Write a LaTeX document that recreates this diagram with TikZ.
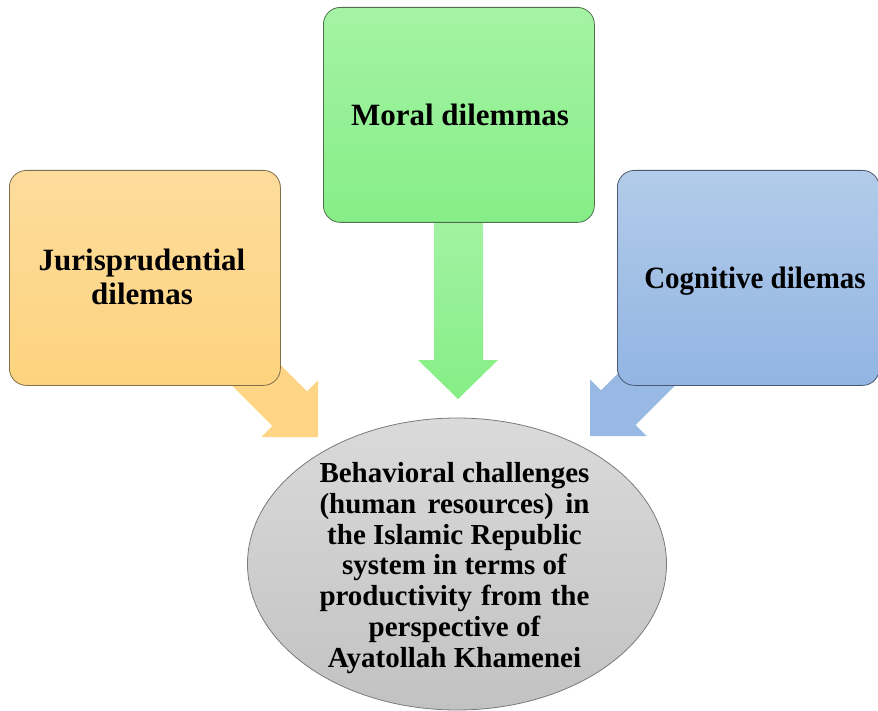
\documentclass[tikz,border=0pt]{standalone}
\usepackage{fontspec}
\setmainfont{Liberation Serif}
\usetikzlibrary{shapes.geometric}
\definecolor{orTop}{HTML}{FDDC9C}
\definecolor{orBot}{HTML}{FDD37E}
\definecolor{orArrow}{HTML}{FDD584}
\definecolor{orLine}{HTML}{7F6E4A}
\definecolor{grTop}{HTML}{A5F3A5}
\definecolor{grBot}{HTML}{86EE86}
\definecolor{grLine}{HTML}{4F6F4F}
\definecolor{blTop}{HTML}{B2CBE9}
\definecolor{blBot}{HTML}{92B5E3}
\definecolor{blArrow}{HTML}{97B9E4}
\definecolor{blLine}{HTML}{4A5870}
\definecolor{elTop}{HTML}{DADADA}
\definecolor{elBot}{HTML}{C2C2C2}
\definecolor{elLine}{HTML}{7A7A7A}
\begin{document}
\begin{tikzpicture}[x=1pt,y=-1pt,
  dbox/.style={rounded corners=17pt, line width=0.8pt, minimum width=271pt, minimum height=215pt, anchor=north west, inner sep=0pt},
  lbl/.style={font=\fontsize{31}{34}\selectfont\bfseries, align=center, inner sep=0pt},
  elbl/.style={font=\fontsize{29}{30.7}\selectfont\bfseries, align=center, inner sep=0pt}]
\useasboundingbox (0,0) rectangle (878,711);
% block arrows
\fill[orArrow] (229.3,313.7) -- (307.0,391.4) -- (318,380.4) -- (318,437) -- (261.4,437) -- (272.4,426.0) -- (194.7,348.3) -- cycle;
\fill[blArrow] (713.3,347.3) -- (635.6,425.0) -- (646.6,436) -- (590,436) -- (590,379.4) -- (601.0,390.4) -- (678.7,312.7) -- cycle;
\shade[top color=grTop, bottom color=grBot] (434,200) -- (483,200) -- (483,360) -- (498,360) -- (458,399) -- (418,360) -- (434,360) -- cycle;
% boxes
\node[dbox, draw=orLine, top color=orTop, bottom color=orBot] (jur) at (9,170) {};
\node[dbox, draw=grLine, top color=grTop, bottom color=grBot] (mor) at (323,7) {};
\node[dbox, draw=blLine, top color=blTop, bottom color=blBot, minimum width=262pt] (cog) at (617,170) {};
% ellipse
\node[ellipse, draw=elLine, line width=0.8pt, top color=elTop, bottom color=elBot, minimum width=419pt, minimum height=292pt, inner sep=0pt] (beh) at (457,564) {};
% texts
\node[lbl] (jurt) at (142,276.5) {Jurisprudential\\dilemas};
\node[lbl] (mort) at (460,114.5) {Moral dilemmas};
\node[lbl] (cogt) at (755,281) {\scalebox{0.935}[1]{Cognitive dilemas}};
\node[elbl] (beht) at (454.5,568) {\makebox[270pt][s]{Behavioral challenges}\\
\makebox[270pt][s]{(human resources) in}\\
the Islamic Republic\\
system in terms of\\
\makebox[270pt][s]{productivity from the}\\
perspective of\\
Ayatollah Khamenei};
\end{tikzpicture}
\end{document}
